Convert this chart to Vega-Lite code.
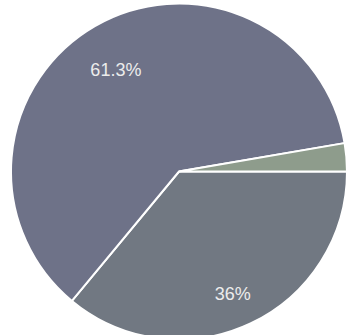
{
  "$schema": "https://vega.github.io/schema/vega-lite/v6.json",
  "width": 347,
  "height": 335,
  "autosize": {"type": "fit", "contains": "padding"},
  "padding": {"left": 11, "top": 8, "right": 0, "bottom": 0},
  "background": "white",
  "view": {"stroke": null},
  "data": {
    "values": [
      {"segment": "B", "value": 36, "label": "36%", "order": 1},
      {"segment": "A", "value": 61.3, "label": "61.3%", "order": 2},
      {"segment": "C", "value": 2.7, "label": "", "order": 3}
    ]
  },
  "encoding": {
    "theta": {"field": "value", "type": "quantitative", "stack": true, "scale": {"range": [1.5708, 7.854]}},
    "order": {"field": "order", "type": "quantitative"}
  },
  "layer": [
    {
      "mark": {"type": "arc", "outerRadius": 168, "stroke": "white", "strokeWidth": 2},
      "encoding": {
        "color": {"field": "segment", "type": "nominal", "legend": null,
          "scale": {"domain": ["A", "B", "C"], "range": ["#6e7288", "#717882", "#8e9c8c"]}}
      }
    },
    {
      "mark": {"type": "text", "radius": 126, "dy": 9, "font": "Liberation Sans", "fontSize": 18, "color": "#ececec"},
      "encoding": {"text": {"field": "label"}}
    }
  ]
}
